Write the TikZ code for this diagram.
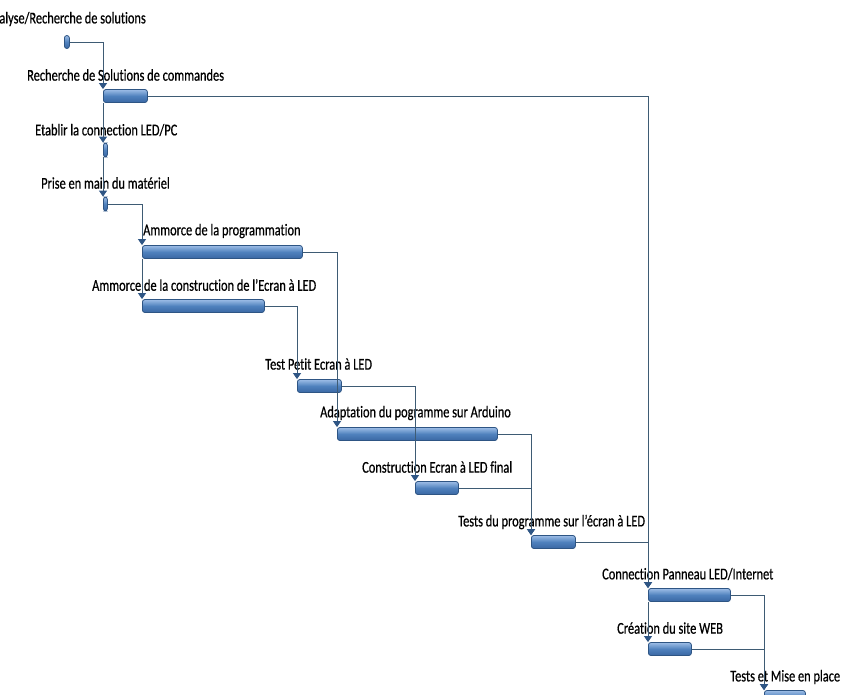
\documentclass[tikz,border=0pt]{standalone}
\usepackage{fontspec}
\setmainfont{Carlito}[FakeStretch=0.75, FakeBold=0.6, Ligatures=NoCommon]
\usetikzlibrary{arrows.meta}
\definecolor{barhi}{HTML}{9DBDE6}
\definecolor{barmid}{HTML}{4F81BD}
\definecolor{barlo}{HTML}{3A67A3}
\definecolor{barrim}{HTML}{2E5584}
\definecolor{linkline}{HTML}{3E5B74}
\tikzset{
  bar/.style={draw=barrim, line width=0.8pt, rounded corners=2.5pt, anchor=west,
    minimum height=13pt, inner sep=0pt, top color=barhi, bottom color=barlo, middle color=barmid},
  tasklbl/.style={font=\fontsize{16.5}{16.5}\selectfont, inner sep=0pt, anchor=west},
  link/.style={draw=linkline, line width=0.9pt, -{Triangle[width=8pt,length=6pt,color=barrim]}},
}

\begin{document}
\begin{tikzpicture}[x=1pt,y=-1pt]
\clip (0,0) rectangle (845,694);
\node[bar, minimum width=5pt, minimum height=13pt] (b1) at (64,42) {};
\node[bar, minimum width=44pt] (b2) at (103,96) {};
\node[bar, minimum width=4pt, minimum height=14pt] (b3) at (103,150) {};
\node[bar, minimum width=4pt, minimum height=14pt] (b4) at (103,204) {};
\node[bar, minimum width=160pt] (b5) at (142,252) {};
\node[bar, minimum width=122pt] (b6) at (142,306) {};
\node[bar, minimum width=44pt] (b7) at (297,386) {};
\node[bar, minimum width=160pt] (b8) at (337,434) {};
\node[bar, minimum width=43pt] (b9) at (415,488) {};
\node[bar, minimum width=44pt] (b10) at (531,542) {};
\node[bar, minimum width=82pt] (b11) at (648,595) {};
\node[bar, minimum width=43pt] (b12) at (648,649) {};
\node[bar, minimum width=41pt] (b13) at (764,697) {};
\node[tasklbl, anchor=east] (l1) at (146,19) {Analyse/Recherche de solutions};
\node[tasklbl] (l2) at (27,75) {Recherche de Solutions de commandes};
\node[tasklbl] (l3) at (35,130) {Etablir la connection LED/PC};
\node[tasklbl] (l4) at (41,183) {Prise en main du matériel};
\node[tasklbl] (l5) at (143,231) {Ammorce de la programmation};
\node[tasklbl] (l6) at (92,285) {Ammorce de la construction de l'Ecran à LED};
\node[tasklbl] (l7) at (265,364) {Test Petit Ecran à LED};
\node[tasklbl] (l8) at (320,413) {Adaptation du pogramme sur Arduino};
\node[tasklbl] (l9) at (362,467) {Construction Ecran à LED final};
\node[tasklbl] (l10) at (458,522) {Tests du programme sur l'écran à LED};
\node[tasklbl] (l11) at (602,574) {Connection Panneau LED/Internet};
\node[tasklbl] (l12) at (617,628) {Création du site WEB};
\node[tasklbl] (l13) at (730,677) {Tests et Mise en place};
\draw[link] (b1.east) -| (b2.north west);
\draw[link] (b2.south west) -- (b3.north west);
\draw[link] (b3.south west) -- (b4.north west);
\draw[link] (b4.east) -| (b5.north west);
\draw[link] (b5.south west) -- (b6.north west);
\draw[link] (b5.east) -| (b8.north west);
\draw[link] (b6.east) -| (b7.north west);
\draw[link] (b7.east) -| (b9.north west);
\draw[link] (b8.east) -| (b10.north west);
\draw[link] (b9.east) -| (b10.north west);
\draw[link] (b2.east) -| (b11.north west);
\draw[link] (b10.east) -| (b11.north west);
\draw[link] (b11.south west) -- (b12.north west);
\draw[link] (b11.east) -| (b13.north west);
\draw[link] (b12.east) -| (b13.north west);
\end{tikzpicture}
\end{document}
